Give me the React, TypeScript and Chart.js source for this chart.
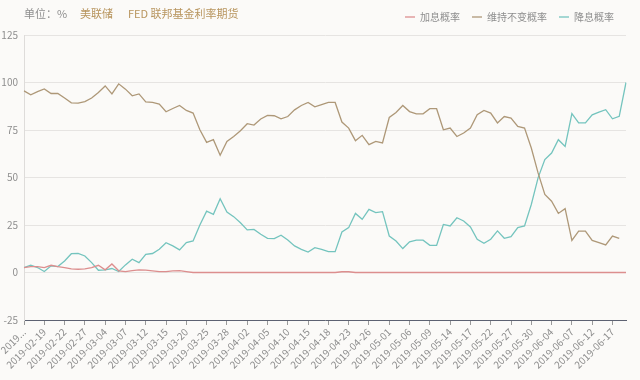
import React, { useEffect, useRef } from "react";
import { Chart, registerables } from "chart.js";

Chart.register(...registerables);

const dates: string[] = [
  "2019-02-14", "2019-02-15", "2019-02-18", "2019-02-19", "2019-02-20", "2019-02-21", "2019-02-22",
  "2019-02-25", "2019-02-26", "2019-02-27", "2019-02-28", "2019-03-01", "2019-03-04", "2019-03-05",
  "2019-03-06", "2019-03-07", "2019-03-08", "2019-03-11", "2019-03-12", "2019-03-13", "2019-03-14",
  "2019-03-15", "2019-03-18", "2019-03-19", "2019-03-20", "2019-03-21", "2019-03-22", "2019-03-25",
  "2019-03-26", "2019-03-27", "2019-03-28", "2019-03-29", "2019-04-01", "2019-04-02", "2019-04-03",
  "2019-04-04", "2019-04-05", "2019-04-08", "2019-04-09", "2019-04-10", "2019-04-11", "2019-04-12",
  "2019-04-15", "2019-04-16", "2019-04-17", "2019-04-18", "2019-04-19", "2019-04-22", "2019-04-23",
  "2019-04-24", "2019-04-25", "2019-04-26", "2019-04-29", "2019-04-30", "2019-05-01", "2019-05-02",
  "2019-05-03", "2019-05-06", "2019-05-07", "2019-05-08", "2019-05-09", "2019-05-10", "2019-05-13",
  "2019-05-14", "2019-05-15", "2019-05-16", "2019-05-17", "2019-05-20", "2019-05-21", "2019-05-22",
  "2019-05-23", "2019-05-24", "2019-05-27", "2019-05-28", "2019-05-29", "2019-05-30", "2019-05-31",
  "2019-06-03", "2019-06-04", "2019-06-05", "2019-06-06", "2019-06-07", "2019-06-10", "2019-06-11",
  "2019-06-12", "2019-06-13", "2019-06-14", "2019-06-17", "2019-06-18", "2019-06-19",
];

// 加息概率
const hikeProb: (number | null)[] = [
  2.6, 3.1, 3.1, 2.6, 3.8, 3.1, 2.6, 1.9, 1.7, 1.9, 2.6, 3.8, 1.4, 4.5, 0.9, 0.5, 1.0, 1.4, 1.2, 0.9,
  0.5, 0.5, 0.9, 1.0, 0.5, 0, 0, 0, 0, 0, 0, 0, 0, 0, 0, 0, 0, 0, 0, 0,
  0, 0, 0, 0, 0, 0, 0, 0.4, 0.4, 0, 0, 0, 0, 0, 0, 0, 0, 0, 0, 0,
  0, 0, 0, 0, 0, 0, 0, 0, 0, 0, 0, 0, 0, 0, 0, 0, 0, 0, 0, 0,
  0, 0, 0, 0, 0, 0, 0, 0, 0, 0,
];

// 维持不变概率
const holdProb: (number | null)[] = [
  95.6, 93.5, 95.2, 96.6, 94.2, 94.2, 91.8, 89.3, 89.1, 89.9, 91.8, 94.7, 98.2, 94.0, 99.3, 96.5, 93.0, 94.0, 89.8, 89.5,
  88.6, 84.6, 86.3, 87.9, 85.3, 83.9, 75.1, 68.5, 69.9, 61.7, 69.0, 71.6, 74.6, 78.3, 77.6, 80.8, 82.7, 82.5, 80.9, 82.1,
  85.6, 87.9, 89.5, 87.2, 88.4, 89.5, 89.5, 79.2, 76.0, 69.4, 72.2, 67.3, 69.0, 68.2, 81.6, 84.2, 87.9, 84.7, 83.5, 83.5,
  86.2, 86.2, 75.1, 76.0, 71.6, 73.4, 76.0, 83.0, 85.3, 83.9, 78.7, 82.1, 81.3, 76.9, 76.0, 65.5, 52.4, 41.1, 37.5, 31.1,
  33.6, 16.9, 21.8, 21.8, 16.9, 15.7, 14.5, 19.2, 18.0, null,
];

// 降息概率
const cutProb: (number | null)[] = [
  2.6, 3.9, 2.6, 0.5, 3.5, 3.1, 6.1, 9.9, 10.1, 8.7, 5.2, 1.2, 1.4, 2.1, 0.5, 4.0, 7.0, 5.2, 9.6, 10.0,
  12.2, 15.7, 14.0, 11.9, 15.7, 16.6, 25.0, 32.3, 30.6, 38.8, 31.8, 29.4, 26.2, 22.4, 22.7, 20.1, 18.0, 17.8, 19.6, 17.1,
  14.0, 12.2, 10.8, 13.1, 12.2, 11.0, 11.0, 21.3, 23.6, 31.1, 28.0, 33.2, 31.5, 32.0, 19.2, 16.6, 12.6, 16.1, 17.0, 17.0,
  14.3, 14.3, 25.3, 24.5, 28.8, 27.1, 24.0, 17.5, 15.4, 17.5, 21.9, 18.0, 18.9, 23.6, 24.5, 35.8, 49.8, 59.4, 62.9, 69.9,
  66.4, 83.6, 78.7, 78.7, 83.0, 84.4, 85.7, 80.9, 82.2, 100,
];

const seriesNames = ["加息概率", "维持不变概率", "降息概率"];
const seriesColors = ["#dc8e8e", "#ae9878", "#74c4be"];

const yMin = -25;
const yMax = 125;
const yStep = 25;

const legendSpacer = {
  id: "legendSpacer",
  beforeInit(chart: any) {
    const legend = chart.legend;
    if (!legend) return;
    const origFit = legend.fit;
    legend.fit = function (this: any) {
      origFit.call(this);
      this.height += 3;
    };
  },
};

export default function App() {
  const canvasRef = useRef<HTMLCanvasElement | null>(null);

  useEffect(() => {
    document.body.style.margin = "0";
    const canvas = canvasRef.current;
    if (!canvas) return;
    const font = '"Noto Sans CJK SC", "Noto Sans", sans-serif';
    Chart.defaults.font.family = font;
    const chart = new Chart(canvas, {
      type: "line",
      data: {
        labels: dates,
        datasets: [hikeProb, holdProb, cutProb].map((d, i) => ({
          label: seriesNames[i],
          data: d,
          borderColor: seriesColors[i],
          backgroundColor: seriesColors[i],
          borderWidth: 1.3,
          pointRadius: 0,
          tension: 0,
          fill: false,
          spanGaps: false,
        })),
      },
      plugins: [legendSpacer],
      options: {
        animation: false,
        responsive: false,
        devicePixelRatio: 1,
        layout: { padding: { left: 0, right: 14, top: 0, bottom: 0 } },
        plugins: {
          legend: {
            position: "top",
            align: "end",
            labels: {
              usePointStyle: true,
              pointStyle: "line",
              pointStyleWidth: 10,
              boxHeight: 10,
              padding: 12,
              color: "#8e8e8e",
              font: { size: 10, family: font },
            },
          },
          tooltip: { enabled: false },
        },
        scales: {
          x: {
            type: "category",
            afterFit: (axis: any) => {
              axis.height = 60;
            },
            grid: {
              drawOnChartArea: false,
              drawTicks: true,
              tickLength: 5,
              color: "#9a9a9a",
            },
            border: { color: "#5d6272", width: 1 },
            ticks: {
              autoSkip: false,
              minRotation: 45,
              maxRotation: 45,
              padding: 1,
              color: "#8e8e8e",
              font: { size: 10, family: font },
              callback: (_v: any, index: number) => {
                if (index % 3 !== 0) return null;
                if (index === 0) return "2019...";
                return dates[index];
              },
            },
          },
          y: {
            min: yMin,
            max: yMax,
            afterFit: (axis: any) => {
              axis.width = 24;
            },
            grid: { color: "#e6e4e2", drawTicks: false },
            border: { color: "#dedcda", width: 1 },
            ticks: {
              stepSize: yStep,
              padding: 6,
              color: "#8e8e8e",
              font: { size: 10, family: font },
            },
          },
        },
      },
    });
    return () => chart.destroy();
  }, []);

  return (
    <div
      style={{
        position: "relative",
        width: 640,
        height: 380,
        background: "#fbfaf8",
        fontFamily: '"Noto Sans CJK SC", "Noto Sans", sans-serif',
      }}
    >
      <canvas ref={canvasRef} width={640} height={380} style={{ display: "block" }} />
      <div style={{ position: "absolute", left: 24, top: 5, fontSize: 11, color: "#8e8e8e", whiteSpace: "nowrap" }}>
        单位：%
      </div>
      <div style={{ position: "absolute", left: 80, top: 5, fontSize: 11, color: "#b8955e", whiteSpace: "nowrap" }}>
        美联储
      </div>
      <div style={{ position: "absolute", left: 128, top: 5, fontSize: 11, color: "#b8955e", whiteSpace: "nowrap" }}>
        FED 联邦基金利率期货
      </div>
    </div>
  );
}
